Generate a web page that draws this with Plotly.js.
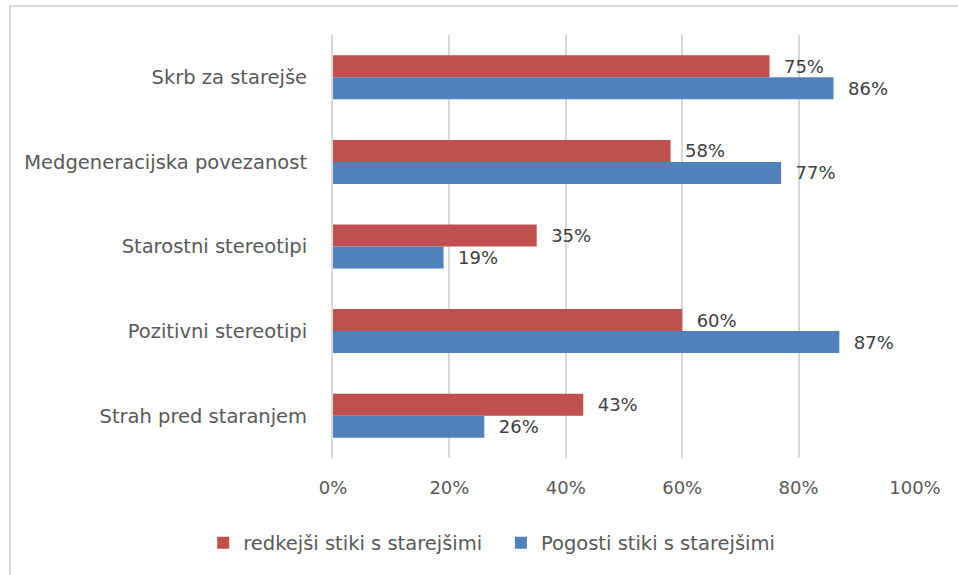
<!DOCTYPE html>
<html>
<head>
<meta charset="utf-8">
<script src="https://cdn.plot.ly/plotly-3.0.1.min.js"></script>
<style>
  html, body { margin: 0; padding: 0; background: #fff; }
  #wrap { position: relative; width: 958px; height: 575px; overflow: hidden; }
  #chart { width: 958px; height: 575px; }
  #frame { position: absolute; left: 9px; top: 5px; width: 960px; height: 580px;
           border-top: 2px solid #D9D9D9; border-left: 2px solid #D9D9D9; pointer-events: none; }
</style>
</head>
<body>
<div id="wrap">
  <div id="chart"></div>
  <div id="frame"></div>
</div>
<script>
const categories = ["Skrb za starejše", "Medgeneracijska povezanost", "Starostni stereotipi", "Pozitivni stereotipi", "Strah pred staranjem"];
const seriesNames = ["redkejši stiki s starejšimi", "Pogosti stiki s starejšimi"];
const redkejsi = [0.75, 0.58, 0.35, 0.60, 0.43];
const pogosti = [0.86, 0.77, 0.19, 0.87, 0.26];
const xTickVals = [0, 0.2, 0.4, 0.6, 0.8, 1.0];
const xTickText = ["0%", "20%", "40%", "60%", "80%", "100%"];

const fontFam = "DejaVu Sans, sans-serif";
const txtColor = "#595959";
const pad = "\u00a0\u00a0";

function barTrace(name, values, color, legendId) {
  return {
    type: "bar", orientation: "h", name: name, legend: legendId,
    x: values, y: categories,
    marker: { color: color },
    text: values.map(v => pad + Math.round(v * 100) + "%"),
    textposition: "outside",
    cliponaxis: false,
    textfont: { family: fontFam, size: 18, color: "#404040" },
    hoverinfo: "skip"
  };
}

const data = [
  barTrace(seriesNames[0], redkejsi, "#C0504D", "legend"),
  barTrace(seriesNames[1], pogosti, "#4F81BD", "legend2")
];

const legendFont = { family: fontFam, size: 19.5, color: txtColor };

const layout = {
  width: 958, height: 575,
  margin: { l: 333, r: 43, t: 35, b: 115 },
  paper_bgcolor: "#fff", plot_bgcolor: "#fff",
  barmode: "group", bargap: 0.48, bargroupgap: 0,
  font: { family: fontFam, size: 18, color: txtColor },
  showlegend: true,
  legend: { orientation: "h", x: -0.223, xanchor: "left", y: -0.155, yanchor: "top",
            itemwidth: 30, font: legendFont, bgcolor: "rgba(0,0,0,0)" },
  legend2: { orientation: "h", x: 0.2885, xanchor: "left", y: -0.155, yanchor: "top",
            itemwidth: 30, font: legendFont, bgcolor: "rgba(0,0,0,0)" },
  xaxis: {
    range: [0, 1.0], tickvals: xTickVals, ticktext: xTickText,
    showgrid: true, gridcolor: "#D9D9D9", gridwidth: 2,
    zeroline: false, showline: false, ticks: "", ticklabelstandoff: 17,
    tickfont: { family: fontFam, size: 18, color: txtColor }, fixedrange: true
  },
  yaxis: {
    type: "category", autorange: "reversed",
    showgrid: false, zeroline: false, showline: true, linecolor: "#D9D9D9", linewidth: 2,
    ticks: "", ticklabelstandoff: 20,
    tickfont: { family: fontFam, size: 19.5, color: txtColor }, fixedrange: true
  }
};

Plotly.newPlot("chart", data, layout, { displayModeBar: false, staticPlot: true });
</script>
</body>
</html>
